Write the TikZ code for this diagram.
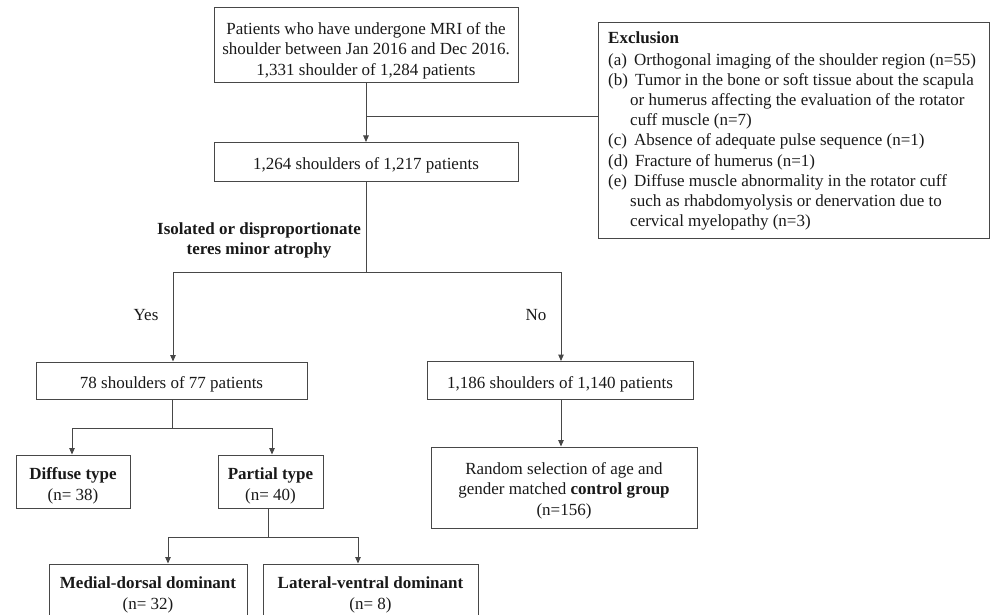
\documentclass[tikz,border=0pt]{standalone}
\usepackage{fontspec}
\setmainfont{Liberation Serif}
\usetikzlibrary{arrows.meta}
\begin{document}
\begin{tikzpicture}[x=1pt,y=-1pt,
  box/.style={draw=black!72, line width=1pt, inner sep=0pt},
  conn/.style={draw=black!72, line width=1pt},
  arr/.style={conn, -{Triangle[length=6.5pt,width=5.5pt]}},
  lbl/.style={inner sep=0pt, align=center, font=\fontsize{17}{20.5}\selectfont, text=black!90}]
\useasboundingbox (0,0) rectangle (990,615);
\clip (0,0) rectangle (990,615);
% boxes
\node[box, minimum width=304pt, minimum height=75pt] (top) at (366,45.5) {};
\node[lbl] (toptxt) at (366,50.5)
  {Patients who have undergone MRI of the\\shoulder between Jan 2016 and Dec 2016.\\1,331 shoulder of 1,284 patients};
\node[box, minimum width=304pt, minimum height=39pt] (second) at (366,162) {};
\node[lbl] (secondtxt) at (366,165) {1,264 shoulders of 1,217 patients};
\node[box, minimum width=391pt, minimum height=215pt] (excl) at (793.5,130.5) {};
\node[lbl, anchor=west, align=left, font=\fontsize{17}{20.2}\selectfont] (excltxt) at (608,131)
  {\spaceskip=5.4pt plus 1pt\textbf{Exclusion}\\[1.5pt]
   (a)\hspace{7pt}Orthogonal imaging\ of the shoulder region (n=55)\\
   (b)\hspace{7pt}Tumor in the bone or soft tissue about the scapula\\
   \hspace*{22pt}or humerus affecting the evaluation\ of the rotator\\
   \hspace*{22pt}cuff muscle (n=7)\\
   (c)\hspace{7pt}Absence of adequate pulse sequence (n=1)\\
   (d)\hspace{7pt}Fracture of humerus (n=1)\\
   (e)\hspace{7pt}Diffuse muscle abnormality in the rotator cuff\\
   \hspace*{22pt}such as rhabdomyolysis or denervation due to\\
   \hspace*{22pt}cervical myelopathy (n=3)};
\node[box, minimum width=271pt, minimum height=37pt] (yes) at (171.5,380.5) {};
\node[lbl] (yestxt) at (171.5,384.5) {78 shoulders of 77 patients};
\node[box, minimum width=266pt, minimum height=38pt] (no) at (560,380.5) {};
\node[lbl] (notxt) at (560,384.5) {1,186 shoulders of 1,140 patients};
\node[box, minimum width=114pt, minimum height=53pt] (diffuse) at (73,481.5) {};
\node[lbl] (diffusetxt) at (73,486) {\textbf{Diffuse type}\\(n= 38)};
\node[box, minimum width=105pt, minimum height=53pt] (partial) at (270.5,481.5) {};
\node[lbl] (partialtxt) at (270.5,486) {\textbf{Partial type}\\(n= 40)};
\node[box, minimum width=266pt, minimum height=81pt] (control) at (564,487.5) {};
\node[lbl] (controltxt) at (564,490.5)
  {Random selection of age and\\gender matched \textbf{control group}\\(n=156)};
\node[box, minimum width=198pt, minimum height=80pt, anchor=north] (medial) at (148,563.5) {};
\node[lbl] (medialtxt) at (148,595) {\textbf{Medial-dorsal dominant}\\(n= 32)};
\node[box, minimum width=215pt, minimum height=80pt, anchor=north] (lateral) at (370.5,563.5) {};
\node[lbl] (lateraltxt) at (370.5,595) {\textbf{Lateral-ventral dominant}\\(n= 8)};
% labels
\node[lbl, font=\bfseries\fontsize{17}{20}\selectfont] (question) at (259,240)
  {Isolated or disproportionate\\teres minor atrophy};
\node[lbl] (yeslbl) at (146,315) {Yes};
\node[lbl] (nolbl) at (536,315) {No};
% connectors
\coordinate (j0) at (366,117);
\draw[conn] (j0) -- (j0 -| excl.west);
\draw[arr] (top.south) -- (second.north);
\coordinate (yl) at (173,272);
\coordinate (nl) at (561,272);
\draw[conn] (second.south) -- (second.south |- yl);
\draw[conn] (yl) -- (nl);
\draw[arr] (yl) -- (yl |- yes.north);
\draw[arr] (nl) -- (nl |- no.north);
\draw[arr] (nl |- no.south) -- (nl |- control.north);
\coordinate (dl) at (72,428);
\coordinate (pl) at (272,428);
\coordinate (ys) at (172,399);
\draw[conn] (ys) -- (ys |- dl);
\draw[conn] (dl) -- (pl);
\draw[arr] (dl) -- (dl |- diffuse.north);
\draw[arr] (pl) -- (pl |- partial.north);
\coordinate (ml) at (168,537);
\coordinate (ll) at (358,537);
\coordinate (ps) at (268,508);
\draw[conn] (ps) -- (ps |- ml);
\draw[conn] (ml) -- (ll);
\draw[arr] (ml) -- (ml |- medial.north);
\draw[arr] (ll) -- (ll |- lateral.north);
\end{tikzpicture}
\end{document}
